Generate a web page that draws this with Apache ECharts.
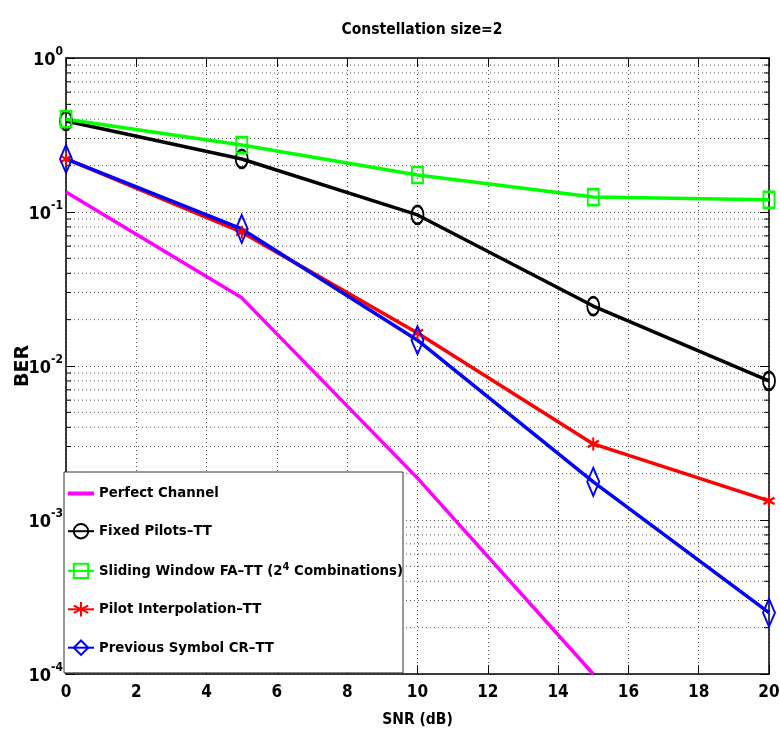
<!DOCTYPE html>
<html><head><meta charset="utf-8">
<script src="https://cdn.jsdelivr.net/npm/echarts@6/dist/echarts.min.js"></script>
<style>html,body{margin:0;padding:0;background:#fff}#c{width:780px;height:741px}</style>
</head><body><div id="c"></div>
<script>
const snr = [0, 5, 10, 15, 20];
const perfectChannel = [0.135, 0.0277, 0.00187, 0.0001];
const fixedPilots = [0.39, 0.221, 0.0957, 0.0245, 0.0080];
const slidingWindow = [0.40, 0.272, 0.174, 0.125, 0.120];
const pilotInterp = [0.221, 0.074, 0.0164, 0.00312, 0.00133];
const prevSymbol = [0.221, 0.0776, 0.0147, 0.00177, 0.00025];
const seriesNames = ['Perfect Channel', 'Fixed Pilots\u2013TT', 'Sliding Window FA\u2013TT (2^4 Combinations)', 'Pilot Interpolation\u2013TT', 'Previous Symbol CR\u2013TT'];
const minorY = [];
[-4, -3, -2, -1].forEach(e => { for (let m = 2; m <= 9; m++) minorY.push(m * Math.pow(10, e)); });

const FONT = "'DejaVu Sans Condensed', 'Liberation Sans Narrow', 'Liberation Sans', sans-serif";
const pairs = arr => arr.map((v, i) => [snr[i], v]);
const STAR = 'path://M0,-10L0,10M-8.66,-5L8.66,5M-8.66,5L8.66,-5';

const chart = echarts.init(document.getElementById('c'), null, { renderer: 'canvas' });
function lineSeries(name, data, color, symbol, size) {
  return {
    name: name, type: 'line', data: pairs(data), z: 5,
    symbol: symbol, symbolSize: size, showSymbol: symbol !== 'none',
    lineStyle: { color: color, width: 3.5 },
    itemStyle: { color: 'rgba(0,0,0,0)', borderColor: color, borderWidth: 2.2 },
    emphasis: { disabled: true }, animation: false
  };
}
const option = {
  animation: false,
  title: {
    text: 'Constellation size=2', left: 417, top: 17, textAlign: 'center',
    textStyle: { fontFamily: FONT, fontSize: 15.5, fontWeight: 'bold', color: '#000' }
  },
  grid: { left: 66, right: 11, top: 58, bottom: 67, containLabel: false, outerBoundsMode: 'none' },
  legend: {
    orient: 'vertical', left: 64, top: 472, padding: [14, 0, 17, 3], itemGap: 22,
    itemWidth: 26, itemHeight: 18,
    backgroundColor: '#fff', borderColor: '#333', borderWidth: 1,
    data: [
      { name: seriesNames[0], icon: 'path://M0,0L26,0L26,4L0,4Z', itemStyle: { color: '#ff00ff', borderWidth: 0 } },
      seriesNames[1], seriesNames[2], seriesNames[3], seriesNames[4]
    ],
    formatter: function (n) {
      if (n.indexOf('2^4') >= 0) return 'Sliding Window FA\u2013TT ({n|2}{s|4} Combinations)';
      return n;
    },
    textStyle: {
      fontFamily: FONT, fontSize: 14.8, fontWeight: 'bold', color: '#000',
      rich: {
        n: { fontFamily: FONT, fontSize: 14.8, fontWeight: 'bold', color: '#000' },
        s: { fontFamily: FONT, fontSize: 11, fontWeight: 'bold', color: '#000', verticalAlign: 'top', padding: [0, 0, 8, 0] }
      }
    }
  },
  xAxis: [{
    type: 'value', min: 0, max: 20, interval: 2,
    name: 'SNR (dB)', nameLocation: 'middle', nameGap: 38, nameMoveOverlap: false,
    nameTextStyle: { fontFamily: FONT, fontSize: 15.5, fontWeight: 'bold', color: '#000' },
    axisLine: { onZero: false, lineStyle: { color: '#000', width: 1.5 } },
    axisTick: { inside: true, length: 9, lineStyle: { color: '#000' } },
    axisLabel: { fontFamily: FONT, fontSize: 17, fontWeight: 'bold', color: '#000', margin: 10 },
    splitLine: { show: true, lineStyle: { color: '#555', type: [1, 3], width: 1 } }
  }, {
    type: 'value', min: 0, max: 20, interval: 2, position: 'top',
    axisLine: { onZero: false, lineStyle: { color: '#000', width: 1.5 } },
    axisTick: { inside: true, length: 9, lineStyle: { color: '#000' } },
    axisLabel: { show: false }, splitLine: { show: false }
  }],
  yAxis: [{
    type: 'log', logBase: 10, min: 0.0001, max: 1, splitNumber: 4,
    name: 'BER', nameLocation: 'middle', nameGap: 33, nameRotate: 90, nameMoveOverlap: false,
    nameTextStyle: { fontFamily: "'DejaVu Sans', sans-serif", fontSize: 19, fontWeight: 'bold', color: '#000' },
    axisLine: { onZero: false, lineStyle: { color: '#000', width: 1.5 } },
    axisTick: { inside: true, length: 9, lineStyle: { color: '#000' } },
    axisLabel: {
      margin: 3, color: '#000',
      formatter: function (v) { const e = Math.round(Math.log10(v)); return '{b|10}{s|' + (e < 0 ? '-' + (-e) : e) + '}'; },
      rich: {
        b: { fontFamily: FONT, fontSize: 18, fontWeight: 'bold', color: '#000', lineHeight: 24, padding: [4, 0, 0, 0] },
        s: { fontFamily: FONT, fontSize: 12, fontWeight: 'bold', color: '#000', verticalAlign: 'top', lineHeight: 24, padding: [0, 0, 10, 0] }
      }
    },
    splitLine: { show: true, lineStyle: { color: '#555', type: [1, 3], width: 1 } }
  }, {
    type: 'log', logBase: 10, min: 0.0001, max: 1, splitNumber: 4, position: 'right',
    axisLine: { onZero: false, lineStyle: { color: '#000', width: 1.5 } },
    axisTick: { inside: true, length: 9, lineStyle: { color: '#000' } },
    axisLabel: { show: false }, splitLine: { show: false }
  }],
  series: [
    {
      type: 'custom', name: 'minorGrid', silent: true, z: 1,
      data: minorY.map(v => [0, v]),
      renderItem: function (params, api) {
        const cs = params.coordSys;
        const y = api.coord([0, api.value(1)])[1];
        return {
          type: 'group', children: [
            { type: 'line', shape: { x1: cs.x, y1: y, x2: cs.x + cs.width, y2: y }, style: { stroke: '#555', lineWidth: 1, lineDash: [1, 3] } },
            { type: 'line', shape: { x1: cs.x, y1: y, x2: cs.x + 5, y2: y }, style: { stroke: '#000', lineWidth: 1 } },
            { type: 'line', shape: { x1: cs.x + cs.width - 5, y1: y, x2: cs.x + cs.width, y2: y }, style: { stroke: '#000', lineWidth: 1 } }
          ]
        };
      }
    },
    lineSeries(seriesNames[0], perfectChannel, '#ff00ff', 'none', 0),
    lineSeries(seriesNames[1], fixedPilots, '#000000', 'circle', [12, 18]),
    lineSeries(seriesNames[2], slidingWindow, '#00ff00', 'rect', [11, 16]),
    lineSeries(seriesNames[3], pilotInterp, '#ff0000', STAR, [11, 13]),
    lineSeries(seriesNames[4], prevSymbol, '#0000ff', 'diamond', [12, 28])
  ]
};
chart.setOption(option);
</script></body></html>
